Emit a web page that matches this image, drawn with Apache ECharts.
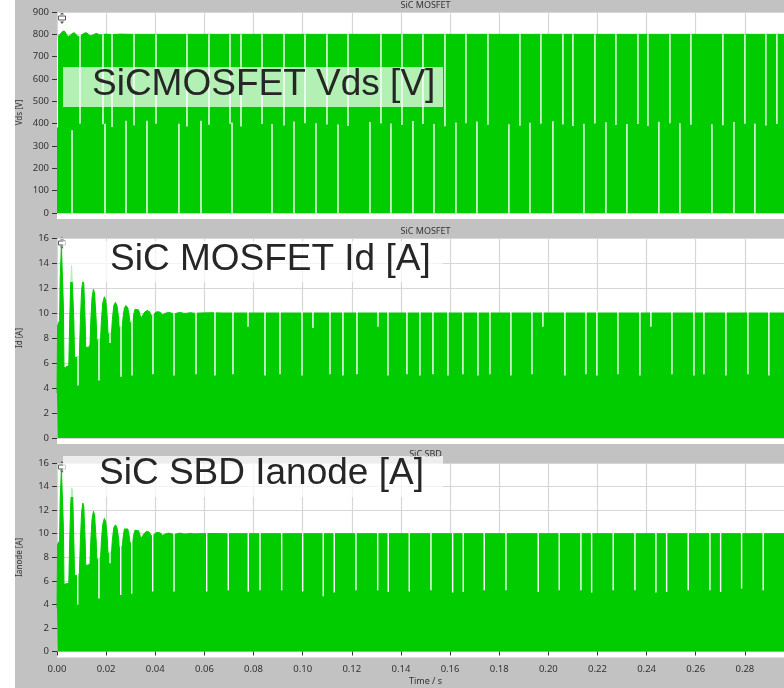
<!DOCTYPE html>
<html>
<head>
<meta charset="utf-8">
<script src="https://cdn.jsdelivr.net/npm/echarts@6/dist/echarts.min.js"></script>
<style>
  html, body { margin: 0; padding: 0; width: 784px; height: 688px; overflow: hidden; background: #fff; }
  #chart { width: 800px; height: 688px; }
</style>
</head>
<body>
<div id="chart"></div>
<script>
// ---- Waveform data (time in ms, value in axis units) ----

// Upper envelope of the MOSFET drain-source voltage [V]
const vdsEnvelope = [
  [0, 782], [2.85, 815], [4.6, 791], [6.92, 807], [8.67, 791], [11.8, 807],
  [13.72, 794], [16.16, 804], [17.5, 797], [19.94, 801], [22.39, 799],
  [25.64, 801], [29.71, 800], [300, 800]
];
// Columns where the switching trace stays below the bus level: [t, low, high]
const vdsHighGaps = [
  [0.15, 383, 790], [9.36, 400, 800], [18.72, 397, 800], [22.39, 385, 800], [31.34, 393, 800],
  [40.29, 400, 800], [52.91, 387, 800], [61.86, 395, 800], [70.41, 400, 800], [74.89, 387, 800],
  [83.44, 398, 800], [92.39, 392, 800], [100.94, 402, 800], [109.89, 396, 800], [118.44, 390, 800],
  [131.87, 401, 800], [140.42, 394, 800], [148.96, 399, 800], [157.92, 388, 800], [166.46, 402, 800],
  [175.42, 395, 800], [188.44, 391, 800], [196.99, 400, 800], [205.94, 396, 800], [210.01, 389, 800],
  [218.97, 401, 800], [227.51, 394, 800], [236.47, 398, 800], [240.54, 390, 800], [249.49, 402, 800],
  [258.04, 395, 800], [271.06, 393, 800], [280.02, 400, 800], [288.56, 392, 800], [293.04, 398, 800]
];
// Columns where the trace never reaches zero: [t, low, high]
const vdsLowGaps = [
  [6.11, 0, 370], [19.54, 0, 400], [28.08, 0, 413], [36.63, 0, 413], [49.65, 0, 400],
  [58.61, 0, 413], [71.23, 0, 405], [87.51, 0, 398], [96.46, 0, 410], [105.41, 0, 402],
  [114.37, 0, 396], [127.39, 0, 408], [135.94, 0, 401], [144.89, 0, 412], [153.44, 0, 399],
  [162.39, 0, 405], [170.94, 0, 410], [183.96, 0, 397], [192.51, 0, 404], [201.87, 0, 411],
  [214.49, 0, 400], [223.44, 0, 406], [231.99, 0, 398], [245.01, 0, 409], [253.56, 0, 402],
  [266.59, 0, 397], [275.54, 0, 407], [284.09, 0, 401]
];

// Upper envelope of the MOSFET drain current [A]
const idEnvelope = [
  [0, 3.6], [0.24, 9.0], [1.06, 9.4], [1.3, 12.8], [1.79, 15.4], [2.2, 15.4], [2.61, 10.5],
  [2.85, 5.6], [4.8, 5.8], [5.13, 9.0], [5.54, 12.2], [5.94, 13.8], [6.35, 13.7], [6.84, 9.5],
  [7.16, 6.4], [9.12, 6.6], [9.52, 9.4], [10.01, 11.8], [10.5, 12.6], [10.91, 12.3], [11.48, 9.3],
  [11.72, 7.2], [13.43, 7.4], [13.76, 9.4], [14.25, 11.2], [14.82, 11.9], [15.3, 11.6], [15.95, 9.4],
  [16.2, 7.8], [17.75, 8.0], [18.07, 9.4], [18.64, 10.8], [19.29, 11.3], [19.86, 11.0], [20.51, 9.5],
  [20.76, 8.3], [22.22, 8.5], [22.55, 9.5], [23.12, 10.6], [23.77, 10.85], [24.42, 10.6], [25.07, 9.6],
  [25.32, 8.8], [26.62, 9.0], [26.86, 9.6], [27.43, 10.4], [28.08, 10.6], [28.82, 10.4], [29.47, 9.7],
  [29.71, 9.2], [30.77, 9.3], [31.01, 9.7], [31.75, 10.3], [32.48, 10.4], [33.21, 10.25], [33.86, 9.8],
  [34.19, 9.6], [35.0, 9.7], [35.82, 10.1], [36.79, 10.2], [37.69, 10.1], [38.26, 9.8], [38.67, 9.75],
  [39.4, 9.9], [40.29, 10.08], [41.27, 10.1], [42.17, 10.05], [42.9, 9.85], [43.31, 9.85], [44.12, 9.98],
  [45.5, 10.05], [46.81, 9.98], [47.46, 9.9], [48.03, 9.95], [49.98, 10.05], [51.69, 9.97], [52.26, 9.93],
  [52.91, 9.98], [54.29, 10.03], [55.76, 9.98], [56.57, 9.96], [58.2, 10.0], [62.68, 10.02],
  [67.16, 10.0], [300, 10.0]
];
const idGaps = [
  [8.55, 4.2, 10.2], [12.62, 7.3, 10.2], [17.09, 4.6, 10.2], [21.57, 7.6, 10.2], [26.05, 4.9, 10.2],
  [30.53, 5.0, 10.2], [39.07, 5.1, 10.2], [47.62, 5.0, 10.2], [56.57, 5.1, 10.2], [64.31, 5.0, 10.2],
  [71.63, 5.1, 10.2], [77.74, 8.9, 10.2], [84.66, 5.0, 10.2], [90.76, 5.1, 10.2], [99.72, 5.0, 10.2],
  [104.19, 8.8, 10.2], [111.11, 5.1, 10.2], [116.4, 5.0, 10.2], [122.1, 5.1, 10.2], [130.65, 8.9, 10.2],
  [134.72, 5.0, 10.2], [142.45, 5.1, 10.2], [147.74, 5.0, 10.2], [153.03, 5.1, 10.2], [159.14, 5.0, 10.2],
  [165.24, 5.1, 10.2], [171.35, 5.0, 10.2], [176.23, 5.1, 10.2], [184.78, 5.0, 10.2], [193.33, 5.1, 10.2],
  [197.8, 8.9, 10.2], [206.76, 5.0, 10.2], [215.3, 5.1, 10.2], [219.78, 5.0, 10.2], [228.33, 5.1, 10.2],
  [237.28, 5.0, 10.2], [241.76, 8.9, 10.2], [250.31, 5.1, 10.2], [259.26, 5.0, 10.2], [263.33, 5.1, 10.2],
  [272.28, 5.0, 10.2], [281.24, 5.1, 10.2], [289.78, 5.0, 10.2]
];

// Upper envelope of the SBD anode current [A]
const ianodeEnvelope = [
  [0, 3.7], [0.24, 9.1], [1.06, 9.4], [1.3, 12.9], [1.79, 15.5], [2.2, 15.5], [2.61, 10.5],
  [2.85, 5.7], [4.8, 5.8], [5.13, 9.0], [5.54, 12.3], [5.94, 13.9], [6.35, 13.7], [6.84, 9.5],
  [7.16, 6.4], [9.12, 6.6], [9.52, 9.4], [10.01, 11.8], [10.5, 12.6], [10.91, 12.3], [11.48, 9.3],
  [11.72, 7.3], [13.43, 7.4], [13.76, 9.4], [14.25, 11.2], [14.82, 11.9], [15.3, 11.6], [15.95, 9.4],
  [16.2, 7.8], [17.75, 8.0], [18.07, 9.4], [18.64, 10.8], [19.29, 11.3], [19.86, 11.0], [20.51, 9.5],
  [20.76, 8.3], [22.22, 8.5], [22.55, 9.5], [23.12, 10.5], [23.77, 10.75], [24.42, 10.5], [25.07, 9.6],
  [25.32, 8.8], [26.62, 9.0], [26.86, 9.6], [27.43, 10.4], [28.08, 10.55], [28.82, 10.4], [29.47, 9.7],
  [29.71, 9.2], [30.77, 9.3], [31.01, 9.7], [31.75, 10.3], [32.48, 10.4], [33.21, 10.25], [33.86, 9.8],
  [34.19, 9.6], [35.0, 9.7], [35.82, 10.1], [36.79, 10.2], [37.69, 10.1], [38.26, 9.8], [38.67, 9.75],
  [39.4, 9.9], [40.29, 10.08], [41.27, 10.1], [42.17, 10.05], [42.9, 9.85], [43.31, 9.85], [44.12, 9.98],
  [45.5, 10.05], [46.81, 9.98], [47.46, 9.9], [48.03, 9.95], [49.98, 10.05], [51.69, 9.97], [52.26, 9.93],
  [52.91, 9.98], [54.29, 10.03], [55.76, 9.98], [56.57, 9.96], [58.2, 10.0], [62.68, 10.02],
  [67.16, 10.0], [300, 10.0]
];
const ianodeGaps = [
  [8.43, 4.0, 10.2], [12.5, 7.4, 10.2], [17.09, 4.5, 10.2], [21.57, 7.5, 10.2], [25.93, 4.8, 10.2],
  [30.4, 4.9, 10.2], [38.95, 5.1, 10.2], [47.62, 5.1, 10.2], [60.93, 5.1, 10.2], [69.72, 5.2, 10.2],
  [77.86, 5.1, 10.2], [82.62, 5.2, 10.2], [91.45, 5.2, 10.2], [100.0, 5.1, 10.2], [108.38, 4.7, 10.2],
  [112.86, 5.0, 10.2], [121.69, 5.2, 10.2], [130.53, 5.2, 10.2], [134.84, 5.05, 10.2], [143.39, 5.1, 10.2],
  [152.22, 5.2, 10.2], [161.05, 5.0, 10.2], [165.36, 5.05, 10.2], [173.91, 5.2, 10.2], [182.74, 5.2, 10.2],
  [195.89, 5.05, 10.2], [204.44, 5.2, 10.2], [213.27, 5.2, 10.2], [217.62, 5.0, 10.2], [226.41, 5.2, 10.2],
  [235.25, 5.2, 10.2], [243.79, 5.0, 10.2], [248.15, 5.05, 10.2], [256.94, 5.2, 10.2], [265.77, 5.2, 10.2],
  [270.13, 5.05, 10.2], [278.67, 5.35, 10.2], [287.46, 5.2, 10.2]
];

// Axis ranges and labels
const timeRange = { min: 0, max: 0.30, step: 0.02 };
const vdsRange = { min: 0, max: 900, step: 100 };
const currentRange = { min: 0, max: 16, step: 2 };
const panelTitles = ['SiC MOSFET', 'SiC MOSFET', 'SiC SBD'];
const axisNames = ['Vds [V]', 'Id [A]', 'Ianode [A]'];
const captions = ['SiCMOSFET Vds [V]', 'SiC MOSFET Id [A]', 'SiC SBD Ianode [A]'];

// ---- Layout / style ----
const GREEN = '#00cc00';
const BG = '#c2c2c2';
const TXT = '#333333';
const SMALL_FONT = '"Noto Sans", "Open Sans", sans-serif';
const BIG_FONT = '"Liberation Sans", Arial, sans-serif';
const panels = [
  { top: 12, height: 201, band: 6, titleY: 5, capBox: [63, 67, 380, 40], capX: 92, capY: 85, marker: [62, 18] },
  { top: 238, height: 200, band: 6, titleY: 231, capBox: [63, 241, 380, 41], capX: 110, capY: 260, marker: [62, 243] },
  { top: 463, height: 188.5, band: 6, titleY: 454, capBox: [63, 456, 380, 41], capX: 99, capY: 474, marker: [62, 467] }
];
const GRID_LEFT = 57, GRID_RIGHT = 6, CHART_W = 800;
const plotW = CHART_W - GRID_LEFT - GRID_RIGHT;

const toSec = pts => pts.map(p => [p[0] / 1000, p[1]]);

function areaSeries(data, idx, smooth) {
  return {
    type: 'line', xAxisIndex: idx, yAxisIndex: idx, data: toSec(data),
    symbol: 'none', smooth: smooth, silent: true, z: 2,
    lineStyle: { color: GREEN, width: 1 },
    areaStyle: { color: GREEN, opacity: 1 }
  };
}
function gapSeries(gaps, idx) {
  return {
    type: 'custom', xAxisIndex: idx, yAxisIndex: idx, silent: true, z: 3, clip: true,
    data: gaps.map(g => [g[0] / 1000, g[1], g[2]]),
    encode: { x: 0, y: [1, 2] },
    renderItem: (params, api) => {
      const a = api.coord([api.value(0), api.value(1)]);
      const b = api.coord([api.value(0), api.value(2)]);
      return { type: 'line', shape: { x1: a[0], y1: a[1], x2: b[0], y2: b[1] },
               style: { stroke: '#ffffff', lineWidth: 1.4 } };
    }
  };
}

const grids = panels.map(p => ({
  left: GRID_LEFT, right: GRID_RIGHT, top: p.top, height: p.height,
  show: true, backgroundColor: '#ffffff', borderWidth: 0,
  containLabel: false, outerBoundsMode: 'none'
}));

const xAxes = panels.map((p, i) => {
  const last = i === panels.length - 1;
  return {
    type: 'value', gridIndex: i, min: timeRange.min, max: timeRange.max, interval: timeRange.step,
    offset: last ? 6 : 0,
    axisLine: { show: false },
    axisTick: { show: last, length: 4, lineStyle: { color: '#333', width: 1 } },
    axisLabel: { show: last, margin: 7, fontSize: 9.5, color: TXT, fontFamily: SMALL_FONT,
                 formatter: v => v.toFixed(2) },
    splitLine: { show: true, lineStyle: { color: '#d6d6d6', width: 1.2 } },
    name: last ? 'Time / s' : '', nameLocation: 'middle', nameGap: 19, nameMoveOverlap: false,
    nameTextStyle: { fontSize: 9, color: TXT, fontFamily: SMALL_FONT }
  };
});

const yRanges = [vdsRange, currentRange, currentRange];
const yAxes = yRanges.map((r, i) => ({
  type: 'value', gridIndex: i, min: r.min, max: r.max, interval: r.step,
  axisLine: { show: false },
  axisTick: { show: true, length: 5, lineStyle: { color: '#333', width: 1 } },
  axisLabel: { margin: 8, fontSize: 9.5, color: TXT, fontFamily: SMALL_FONT },
  splitLine: { show: true, lineStyle: { color: '#d6d6d6', width: 1.2 } },
  name: axisNames[i], nameLocation: 'middle', nameGap: 33, nameRotate: 90, nameMoveOverlap: false,
  nameTextStyle: { fontSize: 8, color: TXT, fontFamily: SMALL_FONT }
}));

const graphic = [
  // white margin strip at the left of the gray frame
  { type: 'rect', z: -1, shape: { x: 0, y: 0, width: 15, height: 688 }, style: { fill: '#ffffff' } }
];
panels.forEach((p, i) => {
  // plot area continues a few pixels below zero
  graphic.push({ type: 'rect', z: -1,
    shape: { x: GRID_LEFT, y: p.top + p.height - 1, width: plotW, height: p.band + 1 },
    style: { fill: '#ffffff' } });
  graphic.push({ type: 'text', z: 50, x: GRID_LEFT + plotW / 2, y: p.titleY,
    style: { text: panelTitles[i], fill: '#333', font: '9px ' + SMALL_FONT, align: 'center', verticalAlign: 'middle' } });
  const [bx, by, bw, bh] = p.capBox;
  graphic.push({ type: 'rect', z: 60, shape: { x: bx, y: by, width: bw, height: bh },
    style: { fill: 'rgba(255,255,255,0.7)' } });
  graphic.push({ type: 'text', z: 61, x: p.capX, y: p.capY,
    style: { text: captions[i], fill: '#262626', font: '37px ' + BIG_FONT, align: 'left', verticalAlign: 'middle' } });
  const [mx, my] = p.marker;
  graphic.push({ type: 'group', z: 70, children: [
    { type: 'rect', shape: { x: mx - 3.5, y: my - 2, width: 7, height: 4 },
      style: { fill: '#ffffff', stroke: '#555', lineWidth: 1 } },
    { type: 'polygon', shape: { points: [[mx, my - 6], [mx - 2, my - 3.5], [mx + 2, my - 3.5]] }, style: { fill: '#555' } },
    { type: 'polygon', shape: { points: [[mx, my + 6], [mx - 2, my + 3.5], [mx + 2, my + 3.5]] }, style: { fill: '#555' } }
  ] });
});

const chart = echarts.init(document.getElementById('chart'), null, { renderer: 'canvas' });
chart.setOption({
  animation: false,
  backgroundColor: BG,
  grid: grids,
  xAxis: xAxes,
  yAxis: yAxes,
  graphic: graphic,
  series: [
    areaSeries(vdsEnvelope, 0, 0.35),
    gapSeries(vdsHighGaps, 0),
    gapSeries(vdsLowGaps, 0),
    areaSeries(idEnvelope, 1, false),
    gapSeries(idGaps, 1),
    areaSeries(ianodeEnvelope, 2, false),
    gapSeries(ianodeGaps, 2)
  ]
});
</script>
</body>
</html>
